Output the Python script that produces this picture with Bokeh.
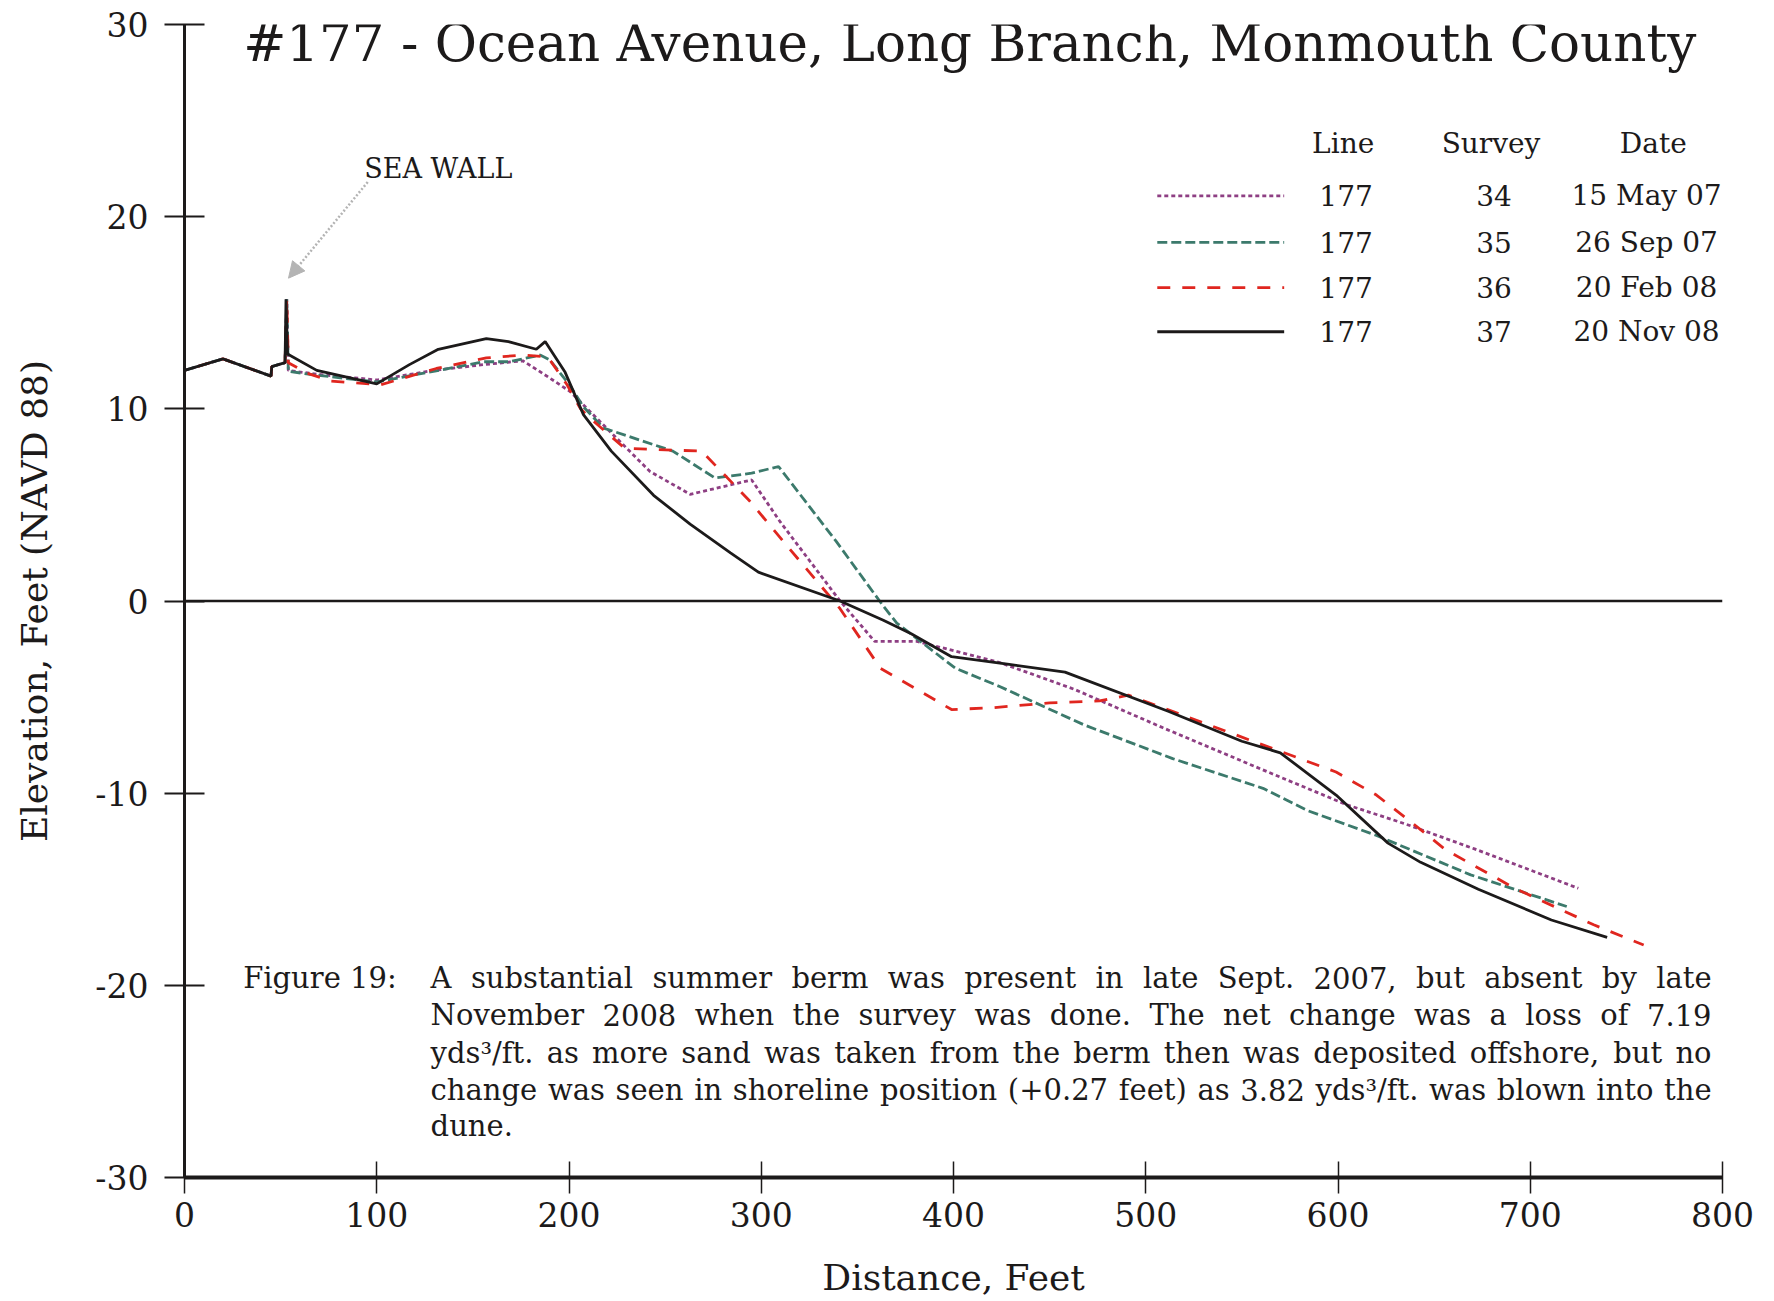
import glob
import struct
from bokeh.plotting import figure
from bokeh.models import Range1d, Label, Arrow, NormalHead, Span, FixedTicker, CustomJSTickFormatter
from bokeh.embed import file_html
from bokeh.resources import INLINE

# ---------------- data ----------------
x34 = [0, 0, 20, 45, 45.4, 52.3, 53.2, 54, 69, 100, 129.5, 155.5, 176, 187, 200.6, 216, 242, 263, 295, 310, 341, 359, 381, 424, 463, 509, 566, 604.5, 635, 671, 725]
y34 = [17.8, 12.0, 12.6, 11.7, 12.2, 12.4, 15.7, 12.0, 11.8, 11.5, 12.0, 12.3, 12.5, 11.8, 10.9, 9.35, 6.75, 5.55, 6.3, 4.1, 0.0, -2.1, -2.1, -3.2, -4.6, -6.6, -9.0, -10.6, -11.6, -12.9, -14.95]

x35 = [0, 0, 20, 45, 45.4, 52.3, 53.2, 54, 69, 100, 129.5, 155.5, 169, 185, 190, 200.6, 207.5, 218, 254, 276, 295, 309, 339, 363, 370.5, 401, 424, 468, 514, 561, 584, 620, 669, 719]
y35 = [17.8, 12.0, 12.6, 11.7, 12.2, 12.4, 15.7, 11.95, 11.75, 11.4, 11.95, 12.45, 12.45, 12.8, 12.55, 11.2, 10.1, 9.0, 7.8, 6.4, 6.65, 7.0, 3.1, -0.2, -1.15, -3.5, -4.45, -6.45, -8.2, -9.75, -10.9, -12.2, -14.25, -15.9]

x36 = [0, 0, 20, 45, 45.4, 52.3, 53.2, 54, 64, 76, 102, 131, 157, 176, 189, 199, 206, 214, 229, 254, 269, 294, 311.5, 341, 362, 399, 421, 450, 476, 491, 568, 599, 620, 638, 656, 692, 733, 759]
y36 = [17.8, 12.0, 12.6, 11.7, 12.2, 12.4, 15.7, 12.4, 11.85, 11.45, 11.25, 12.1, 12.65, 12.8, 12.7, 11.25, 10.0, 9.25, 7.95, 7.85, 7.8, 5.2, 3.1, -0.4, -3.5, -5.65, -5.55, -5.3, -5.2, -4.9, -7.75, -8.9, -10.1, -11.5, -12.95, -14.95, -16.85, -17.9]

x37 = [0, 0, 20, 45, 45.4, 52.3, 52.8, 53.6, 68.8, 100, 117, 132, 157, 168.5, 183, 187.6, 198, 207.5, 222, 244, 263, 284, 298.5, 341, 363.5, 378, 399, 429, 458, 512, 550, 570, 599, 626, 643, 673, 711, 740]
y37 = [17.8, 12.0, 12.6, 11.7, 12.2, 12.4, 15.7, 12.85, 12.0, 11.3, 12.3, 13.1, 13.65, 13.5, 13.1, 13.5, 11.9, 9.7, 7.8, 5.5, 4.0, 2.5, 1.5, 0.0, -1.0, -1.7, -2.9, -3.3, -3.7, -5.75, -7.3, -7.9, -10.1, -12.6, -13.6, -15.0, -16.6, -17.5]

legend_lines = ["177", "177", "177", "177"]
legend_surveys = ["34", "35", "36", "37"]
legend_dates = ["15 May 07", "26 Sep 07", "20 Feb 08", "20 Nov 08"]

x_ticks = [0, 100, 200, 300, 400, 500, 600, 700, 800]
y_ticks = [-30, -20, -10, 0, 10, 20, 30]

title_text = "#177 - Ocean Avenue, Long Branch, Monmouth County"
caption_head = "Figure 19:"
caption_lines = [
    "A substantial summer berm was present in late Sept. 2007, but absent by late",
    "November 2008 when the survey was done.  The net change was a loss of 7.19",
    "yds\u00b3/ft. as more sand was taken from the berm then was deposited offshore, but no",
    "change was seen in shoreline position (+0.27 feet) as 3.82 yds\u00b3/ft. was blown into the",
    "dune.",
]

FONT = "DejaVu Serif"
C_PURPLE = "#8e3f83"
C_GREEN = "#3c7a6c"
C_RED = "#e0261f"
C_BLACK = "#1c1a1a"
D_PURPLE = "4 3"
D_GREEN = "10 4"
D_RED = "13 12"
LW = 2.8


# ---------- text measuring (for justified caption) ----------
def make_measure():
    try:
        paths = glob.glob("/usr/share/fonts/**/DejaVuSerif.ttf", recursive=True)
        data = open(paths[0], "rb").read()
        nt = struct.unpack(">H", data[4:6])[0]
        tabs = {}
        for i in range(nt):
            tag, _, off, ln = struct.unpack(">4sIII", data[12 + 16 * i:28 + 16 * i])
            tabs[tag.decode("latin-1")] = off
        upem = struct.unpack(">H", data[tabs["head"] + 18:tabs["head"] + 20])[0]
        nhm = struct.unpack(">H", data[tabs["hhea"] + 34:tabs["hhea"] + 36])[0]
        hm = tabs["hmtx"]
        cm = tabs["cmap"]
        n = struct.unpack(">H", data[cm + 2:cm + 4])[0]
        sub = None
        for i in range(n):
            pid, eid, off = struct.unpack(">HHI", data[cm + 4 + 8 * i:cm + 12 + 8 * i])
            fmt = struct.unpack(">H", data[cm + off:cm + off + 2])[0]
            if fmt == 4:
                sub = cm + off
                break
        seg2 = struct.unpack(">H", data[sub + 6:sub + 8])[0]
        ns = seg2 // 2
        ends = struct.unpack(">%dH" % ns, data[sub + 14:sub + 14 + seg2])
        starts = struct.unpack(">%dH" % ns, data[sub + 16 + seg2:sub + 16 + 2 * seg2])
        deltas = struct.unpack(">%dh" % ns, data[sub + 16 + 2 * seg2:sub + 16 + 3 * seg2])
        rpos = sub + 16 + 3 * seg2
        roffs = struct.unpack(">%dH" % ns, data[rpos:rpos + seg2])

        def glyph(c):
            for i in range(ns):
                if ends[i] >= c:
                    if starts[i] > c:
                        return 0
                    if roffs[i] == 0:
                        return (c + deltas[i]) & 0xFFFF
                    addr = rpos + 2 * i + roffs[i] + 2 * (c - starts[i])
                    g = struct.unpack(">H", data[addr:addr + 2])[0]
                    return (g + deltas[i]) & 0xFFFF if g else 0
            return 0

        def adv(g):
            g = min(g, nhm - 1)
            return struct.unpack(">H", data[hm + 4 * g:hm + 4 * g + 2])[0]

        def measure(s, size):
            return sum(adv(glyph(ord(ch))) for ch in s) * size / upem
        measure("test", 10)
        return measure
    except Exception:
        return lambda s, size: len(s) * 0.56 * size


measure = make_measure()

p = figure(width=1766, height=1300, x_range=Range1d(0, 800), y_range=Range1d(-30, 30),
           output_backend="svg", toolbar_location=None,
           min_border_left=184, min_border_right=44, min_border_top=24, min_border_bottom=123)
p.outline_line_color = None
p.xgrid.visible = False
p.ygrid.visible = False
p.background_fill_color = "white"

# axes
p.xaxis.ticker = FixedTicker(ticks=x_ticks)
p.yaxis.ticker = FixedTicker(ticks=y_ticks)
p.xaxis.formatter = CustomJSTickFormatter(code="return String(tick);")
p.yaxis.formatter = CustomJSTickFormatter(code="return String(tick);")
p.xaxis.axis_label = "Distance, Feet"
p.yaxis.axis_label = "Elevation, Feet (NAVD 88)"
for ax in (p.xaxis[0], p.yaxis[0]):
    ax.axis_line_color = C_BLACK
    ax.major_tick_line_color = C_BLACK
    ax.minor_tick_line_color = None
    ax.major_label_text_font = FONT
    ax.major_label_text_font_size = "33px"
    ax.major_label_text_color = C_BLACK
    ax.axis_label_text_font = FONT
    ax.axis_label_text_font_size = "36px"
    ax.axis_label_text_font_style = "normal"
    ax.axis_label_text_color = C_BLACK
p.xaxis.axis_line_width = 4
p.xaxis.major_tick_line_width = 1.5
p.xaxis.major_tick_in = 16
p.xaxis.major_tick_out = 16
p.xaxis.major_label_standoff = 8
p.xaxis.axis_label_standoff = 27
p.yaxis.axis_line_width = 3
p.yaxis.major_tick_line_width = 2
p.yaxis.major_tick_in = 20
p.yaxis.major_tick_out = 20
p.yaxis.major_label_standoff = 16
p.yaxis.axis_label_standoff = 37

p.add_layout(Span(location=0, dimension="width", line_color=C_BLACK, line_width=2.5))

# profiles
p.line(x34, y34, line_color=C_PURPLE, line_width=LW, line_dash=D_PURPLE)
p.line(x35, y35, line_color=C_GREEN, line_width=LW, line_dash=D_GREEN)
p.line(x36, y36, line_color=C_RED, line_width=LW, line_dash=D_RED)
p.line(x37, y37, line_color=C_BLACK, line_width=LW)

# title
p.add_layout(Label(x=30.5, y=29.05, text=title_text, text_font=FONT, text_font_size="51.5px",
                   text_color=C_BLACK, text_baseline="middle", text_align="left"))

# sea wall annotation
p.add_layout(Label(x=93.5, y=22.5, text="SEA WALL", text_font=FONT, text_font_size="27px",
                   text_color=C_BLACK, text_baseline="middle", text_align="left"))
p.add_layout(Arrow(end=NormalHead(size=16, fill_color="#b4b4b4", line_color="#b4b4b4"),
                   x_start=95.3, y_start=21.8, x_end=54.1, y_end=16.8,
                   line_color="#b4b4b4", line_width=2.5, line_dash="2 2"))

# legend table
hdr_y = 23.8
row_y = [21.08, 18.66, 16.31, 14.01]
styles = [(C_PURPLE, D_PURPLE), (C_GREEN, D_GREEN), (C_RED, D_RED), (C_BLACK, "solid")]
for lbl, cx in (("Line", 602.7), ("Survey", 679.6), ("Date", 764.0)):
    p.add_layout(Label(x=cx, y=hdr_y, text=lbl, text_font=FONT, text_font_size="28px",
                       text_color=C_BLACK, text_align="center", text_baseline="middle"))
for i in range(4):
    col, dash = styles[i]
    p.line([506, 572], [row_y[i], row_y[i]], line_color=col, line_width=LW, line_dash=dash)
    for t, cx in ((legend_lines[i], 604.2), (legend_surveys[i], 681.2), (legend_dates[i], 760.5)):
        p.add_layout(Label(x=cx, y=row_y[i], text=t, text_font=FONT, text_font_size="28px",
                           text_color=C_BLACK, text_align="center", text_baseline="middle"))

# caption (justified like the original)
PX_PER_UNIT = 1538.0 / 800.0
CAP_SIZE = 29
cap_y = [-19.61, -21.56, -23.5, -25.45, -27.33]
cap_left, cap_right = 128.0, 794.3
p.add_layout(Label(x=30.5, y=cap_y[0], text=caption_head, text_font=FONT, text_font_size="%dpx" % CAP_SIZE,
                   text_color=C_BLACK, text_align="left", text_baseline="middle"))
for i, line in enumerate(caption_lines):
    words = line.split()
    widths = [measure(w, CAP_SIZE) / PX_PER_UNIT for w in words]
    space = measure(" ", CAP_SIZE) / PX_PER_UNIT
    last = (i == len(caption_lines) - 1) or len(words) < 2
    if not last:
        space = (cap_right - cap_left - sum(widths)) / (len(words) - 1)
    xpos = cap_left
    for w, wd in zip(words, widths):
        p.add_layout(Label(x=xpos, y=cap_y[i], text=w, text_font=FONT, text_font_size="%dpx" % CAP_SIZE,
                           text_color=C_BLACK, text_align="left", text_baseline="middle"))
        xpos += wd + space

open("out.html", "w").write(file_html(p, INLINE))
